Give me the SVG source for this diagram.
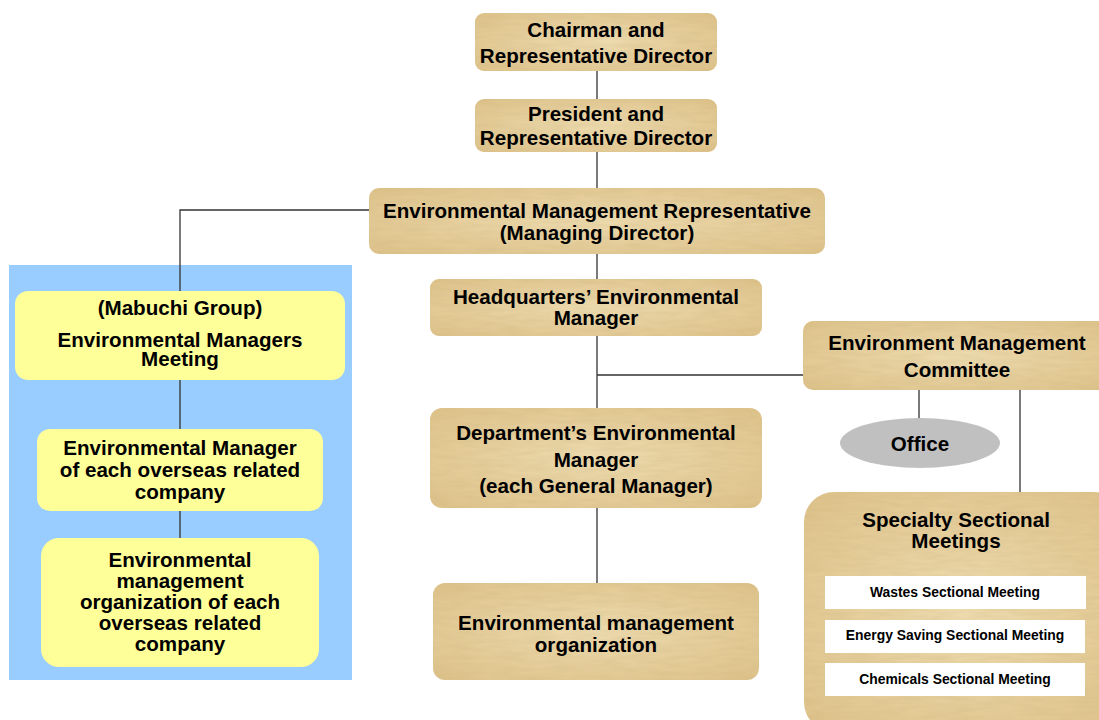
<svg xmlns="http://www.w3.org/2000/svg" width="1099" height="720" viewBox="0 0 1099 720">
<style>
.p{fill:url(#pg);filter:url(#tex)}
.y{fill:#FFFF99}
.t{font-family:"Liberation Sans",Arial,sans-serif;font-weight:bold;font-size:20.6px;fill:#000;text-anchor:middle}
.s{font-size:13.9px}
.ln{stroke:#333;stroke-width:1.3;fill:none}
</style>
<defs>
<radialGradient id="pg" cx="50%" cy="50%" r="70%">
<stop offset="0" stop-color="#EEDCB0"/>
<stop offset="1" stop-color="#DEC28A"/>
</radialGradient>
<filter id="tex" x="0" y="0" width="100%" height="100%">
<feTurbulence type="fractalNoise" baseFrequency="0.04 0.25" numOctaves="2" seed="3" result="n"/>
<feColorMatrix in="n" type="matrix" values="0 0 0 0 0.6  0 0 0 0 0.45  0 0 0 0 0.2  0 0 0 0.45 -0.1" result="c"/>
<feComposite in="c" in2="SourceAlpha" operator="in" result="ci"/>
<feMerge><feMergeNode in="SourceGraphic"/><feMergeNode in="ci"/></feMerge>
</filter>
</defs>
<rect width="1099" height="720" fill="#fff"/>
<rect x="9" y="265" width="343" height="415" fill="#99CCFF"/>
<g id="connectors">
<path class="ln" d="M597 71V99M597 152V188M597 254V279M597 336V408M597 375H803M597 508V583M369 210H180V291M180 379V429M180 511V538M919 390V418M1020 390V492"/>
</g>
<g id="chairman"><rect class="p" x="475" y="13" width="242" height="58" rx="9"/>
<text class="t" x="596" y="37">Chairman and</text><text class="t" x="596" y="63">Representative Director</text></g>
<g id="president"><rect class="p" x="475" y="99" width="242" height="53" rx="9"/>
<text class="t" x="596" y="121">President and</text><text class="t" x="596" y="145">Representative Director</text></g>
<g id="emr"><rect class="p" x="369" y="188" width="456" height="66" rx="10"/>
<text class="t" x="597" y="218">Environmental Management Representative</text><text class="t" x="597" y="240">(Managing Director)</text></g>
<g id="hq"><rect class="p" x="430" y="279" width="332" height="57" rx="9"/>
<text class="t" x="596" y="304">Headquarters’ Environmental</text><text class="t" x="596" y="325">Manager</text></g>
<g id="committee"><rect class="p" x="803" y="321" width="310" height="69" rx="10"/>
<text class="t" x="957" y="350">Environment Management</text><text class="t" x="957" y="377">Committee</text></g>
<g id="office"><ellipse cx="920" cy="443" rx="80" ry="25" fill="#C0C0C0"/>
<text class="t" x="920" y="451">Office</text></g>
<g id="dept"><rect class="p" x="430" y="408" width="332" height="100" rx="12"/>
<text class="t" x="596" y="440">Department’s Environmental</text><text class="t" x="596" y="467">Manager</text><text class="t" x="596" y="493">(each General Manager)</text></g>
<g id="org"><rect class="p" x="433" y="583" width="326" height="97" rx="12"/>
<text class="t" x="596" y="630">Environmental management</text><text class="t" x="596" y="652">organization</text></g>
<g id="specialty"><rect class="p" x="804" y="492" width="320" height="240" rx="30"/>
<text class="t" x="956" y="527">Specialty Sectional</text><text class="t" x="956" y="548">Meetings</text>
<rect x="825" y="576" width="261" height="33" fill="#fff"/><text class="t s" x="955" y="597">Wastes Sectional Meeting</text>
<rect x="825" y="620" width="260" height="33" fill="#fff"/><text class="t s" x="955" y="640">Energy Saving Sectional Meeting</text>
<rect x="825" y="663" width="260" height="33" fill="#fff"/><text class="t s" x="955" y="684">Chemicals Sectional Meeting</text></g>
<g id="meeting"><rect class="y" x="15" y="291" width="330" height="89" rx="13"/>
<text class="t" x="180" y="315">(Mabuchi Group)</text><text class="t" x="180" y="347">Environmental Managers</text><text class="t" x="180" y="366">Meeting</text></g>
<g id="overseas-mgr"><rect class="y" x="37" y="429" width="286" height="82" rx="13"/>
<text class="t" x="180" y="455">Environmental Manager</text><text class="t" x="180" y="477">of each overseas related</text><text class="t" x="180" y="499">company</text></g>
<g id="overseas-org"><rect class="y" x="41" y="538" width="278" height="129" rx="18"/>
<text class="t" x="180" y="567">Environmental</text><text class="t" x="180" y="588">management</text><text class="t" x="180" y="609">organization of each</text><text class="t" x="180" y="630">overseas related</text><text class="t" x="180" y="651">company</text></g>
</svg>
